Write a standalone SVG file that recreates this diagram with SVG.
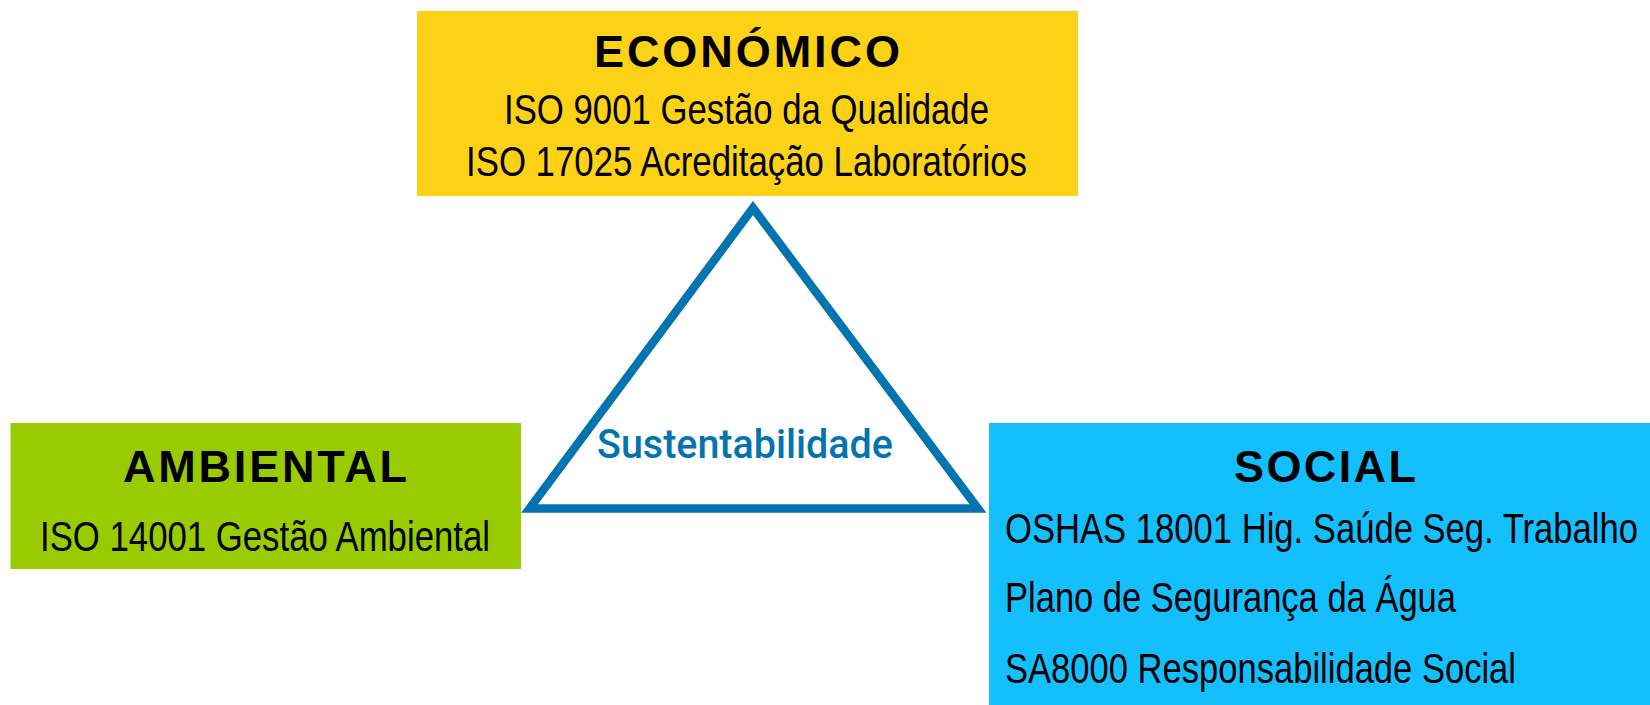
<svg xmlns="http://www.w3.org/2000/svg" width="1650" height="705" viewBox="0 0 1650 705">
<style>
.head{font-family:"Liberation Sans",Arial,sans-serif;font-weight:bold;font-size:45px;fill:#000}
.body{font-family:"Liberation Sans",Arial,sans-serif;font-size:42px;fill:#000}
.tri{fill:#fff;stroke:#0474B0;stroke-width:8.5;stroke-linejoin:miter}
.lbl{font-family:Roboto,"Liberation Sans",Arial,sans-serif;font-weight:500;font-size:41px;fill:#0474B0}
</style>
<rect width="1650" height="705" fill="#fff"/>
<g id="connectors">
<polygon class="tri" points="753,208 529.5,508.5 978,508.5"/>
<text class="lbl" x="597" y="458" textLength="296" lengthAdjust="spacingAndGlyphs">Sustentabilidade</text>
</g>
<g id="economico">
<rect x="417" y="11" width="661" height="185" fill="#FDD116"/>
<text class="head" x="594" y="67" textLength="306" lengthAdjust="spacing">ECONÓMICO</text>
<text class="body" x="504" y="124" textLength="485" lengthAdjust="spacingAndGlyphs">ISO 9001 Gestão da Qualidade</text>
<text class="body" x="466" y="176" textLength="561" lengthAdjust="spacingAndGlyphs">ISO 17025 Acreditação Laboratórios</text>
</g>
<g id="ambiental">
<rect x="10.5" y="423" width="510.5" height="146" fill="#99CC00"/>
<text class="head" x="123" y="482" textLength="284" lengthAdjust="spacing">AMBIENTAL</text>
<text class="body" x="40" y="551" textLength="450" lengthAdjust="spacingAndGlyphs">ISO 14001 Gestão Ambiental</text>
</g>
<g id="social">
<rect x="989" y="423" width="661" height="282" fill="#13BFFF"/>
<text class="head" x="1234" y="482" textLength="182" lengthAdjust="spacing">SOCIAL</text>
<text class="body" x="1005" y="543" textLength="633" lengthAdjust="spacingAndGlyphs">OSHAS 18001 Hig. Saúde Seg. Trabalho</text>
<text class="body" x="1005" y="612" textLength="451" lengthAdjust="spacingAndGlyphs">Plano de Segurança da Água</text>
<text class="body" x="1005" y="683" textLength="511" lengthAdjust="spacingAndGlyphs">SA8000 Responsabilidade Social</text>
</g>
</svg>
